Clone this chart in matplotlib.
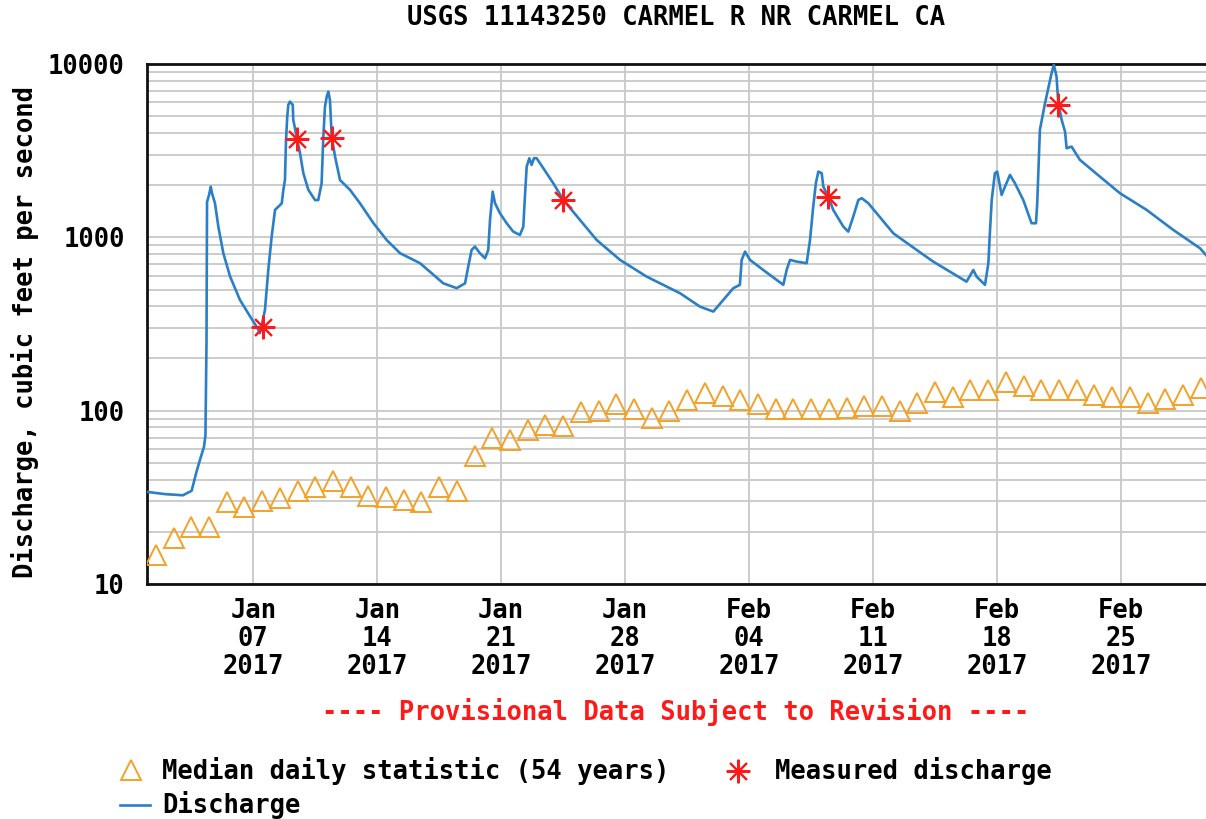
import datetime as dt
import matplotlib
matplotlib.use('Agg')
import matplotlib.pyplot as plt
import matplotlib.dates as mdates
from matplotlib.lines import Line2D
from matplotlib.ticker import LogLocator, NullFormatter, FixedFormatter, FixedLocator

# data (days after 2017-01-01 00:00, cfs)
flow_days = [0.00, 1.02, 2.03, 2.52, 2.81, 2.99, 3.22, 3.30, 3.36, 3.39, 3.50, 3.60, 3.67, 3.84,
             4.03, 4.31, 4.69, 5.25, 5.82, 6.19, 6.38, 6.66, 6.85, 7.04, 7.23, 7.61, 7.70, 7.79,
             7.85, 7.92, 7.98, 8.07, 8.23, 8.26, 8.45, 8.64, 8.83, 9.11, 9.49, 9.67, 9.86, 9.95,
             10.05, 10.15, 10.24, 10.33, 10.43, 10.62, 10.90, 11.46, 12.03, 12.78, 13.53, 14.29,
             15.42, 16.73, 17.49, 17.96, 18.14, 18.33, 18.52, 18.80, 19.09, 19.27, 19.37, 19.52,
             19.65, 19.93, 20.31, 20.68, 21.06, 21.25, 21.34, 21.44, 21.59, 21.72, 21.85, 22.00,
             22.38, 22.94, 23.51, 24.45, 25.39, 26.71, 28.22, 30.10, 31.23, 31.98, 32.54, 33.11,
             33.48, 33.58, 33.77, 34.05, 34.80, 35.93, 36.12, 36.31, 36.69, 37.25, 37.44, 37.62,
             37.77, 37.91, 38.10, 38.19, 38.47, 38.75, 39.32, 39.60, 39.88, 40.17, 40.36, 40.73,
             41.20, 42.14, 43.46, 44.40, 45.34, 46.28, 46.66, 46.85, 47.32, 47.51, 47.60, 47.70,
             47.88, 48.01, 48.26, 48.45, 48.73, 49.01, 49.48, 49.95, 50.20, 50.27, 50.42, 50.71,
             51.08, 51.21, 51.36, 51.46, 51.65, 51.84, 51.93, 52.21, 52.68, 53.81, 54.94, 56.45,
             57.95, 59.46, 59.80]
flow_cfs = [34, 33, 32.5, 34.5, 45, 52, 62, 72, 250, 1600, 1750, 1960, 1800, 1570,
            1150, 810, 595, 435, 350, 305, 280, 380, 650, 1010, 1440, 1570, 1880, 2140,
            3650, 4970, 5810, 6070, 5810, 4760, 3810, 3060, 2340, 1880, 1640, 1640, 2050, 3650,
            5680, 6490, 6930, 6210, 3810, 2920, 2140, 1880, 1570, 1210, 966, 810,
            709, 543, 509, 543, 678, 846, 884, 810, 757, 846, 1260, 1835,
            1574, 1378, 1206, 1079, 1032, 1153, 1717, 2559, 2860, 2617, 2860, 2860,
            2505, 2052, 1643, 1260, 966, 741, 593, 476, 398, 373, 435, 509,
            532, 741, 827, 741, 648, 532, 648, 741, 724, 709, 966, 1504,
            2052, 2394, 2343, 1962, 1717, 1439, 1153, 1079, 1316, 1643, 1681, 1574,
            1378, 1056, 846, 724, 634, 555, 648, 593, 532, 709, 1079, 1643,
            2343, 2394, 1757, 1962, 2291, 2052, 1643, 1206, 1206, 1574, 4168, 5940,
            8850, 9900, 8460, 5940, 4757, 4074, 3267, 3337, 2798, 2240, 1797, 1439,
            1104, 865, 790]

# median daily statistic, Jan 1 .. Mar 1
median_cfs = [14.7, 18.4, 21.3, 21.3, 29.6, 27.7, 30.3, 31.3, 34.2, 36.2, 39.5, 36.5, 32.4,
              31.7, 30.7, 29.9, 36.2, 34.6, 54.6, 69.4, 67.3, 76.9, 82.9, 81.1, 98.6, 99.5,
              108.6, 102.5, 91, 98.9, 115.6, 126, 122, 115.6, 109.6, 102.5, 102.5, 102.5, 102.5,
              103.4, 107, 105.7, 99.6, 110.5, 127.9, 119.7, 132, 132, 147.3, 138.4, 130.8,
              130.8, 130.8, 123.5, 119.7, 119.7, 110.5, 116, 123.5, 134.8]

meas_days = [6.55, 8.45, 10.43, 23.51, 38.47, 51.46]
meas_cfs = [305, 3700, 3750, 1650, 1700, 5800]

tick_dates = ['2017-01-07', '2017-01-14', '2017-01-21', '2017-01-28',
              '2017-02-04', '2017-02-11', '2017-02-18', '2017-02-25']

FONT = 'DejaVu Sans Mono'
FS = 18.4
BLUE = '#2a7fc6'
ORANGE = '#f2a22a'
RED = '#ff1a1a'

t0 = mdates.date2num(dt.datetime(2017, 1, 1))
flow_x = [t0 + d for d in flow_days]
med_x = [t0 + i + 0.5 for i in range(len(median_cfs))]
meas_x = [t0 + d for d in meas_days]

W, H = 1206, 819
fig = plt.figure(figsize=(W / 100, H / 100), dpi=100)
ax = fig.add_axes([147 / W, 1 - 584 / H, (W - 147) / W, 520 / H])

ax.plot(med_x, median_cfs, ls='none', marker='^', ms=14, mfc='none', mec=ORANGE, mew=1.4, zorder=3)
ax.plot(flow_x, flow_cfs, color=BLUE, lw=1.9, zorder=4)
ax.plot(meas_x, meas_cfs, ls='none', marker=(8, 2, 0), ms=17, mec=RED, mew=1.5, zorder=5)

ax.set_yscale('log')
ax.set_ylim(10, 10000)
ax.set_xlim(t0, t0 + 59.8)

# grids
ax.yaxis.set_major_locator(FixedLocator([10, 100, 1000, 10000]))
ax.yaxis.set_major_formatter(FixedFormatter(['10', '100', '1000', '10000']))
ax.yaxis.set_minor_locator(LogLocator(base=10, subs=range(2, 10)))
ax.yaxis.set_minor_formatter(NullFormatter())
ticks = [mdates.date2num(dt.datetime.strptime(s, '%Y-%m-%d')) for s in tick_dates]
ax.set_xticks(ticks)
ax.xaxis.set_major_formatter(mdates.DateFormatter('%b\n%d\n%Y'))
ax.grid(True, which='major', axis='x', color='#c8c8c8', lw=1.3)
ax.grid(True, which='both', axis='y', color='#c8c8c8', lw=1.3)
ax.set_axisbelow(True)

ax.tick_params(which='both', length=0)
ax.tick_params(axis='y', pad=16)
ax.tick_params(axis='x', pad=10)
for lab in ax.get_xticklabels() + ax.get_yticklabels():
    lab.set_fontfamily(FONT)
    lab.set_fontweight('bold')
    lab.set_fontsize(FS)
    lab.set_linespacing(1.1)

for s in ['left', 'bottom', 'top']:
    ax.spines[s].set_linewidth(2)
    ax.spines[s].set_color('#111111')
ax.spines['right'].set_visible(False)

txt = dict(family=FONT, weight='bold', fontsize=FS)
fig.text(676 / W, 1 - 18 / H, 'USGS 11143250 CARMEL R NR CARMEL CA', ha='center', va='center', **txt)
fig.text(25 / W, 1 - 332 / H, 'Discharge, cubic feet per second', rotation=90,
         ha='center', va='center', **txt)
fig.text(676 / W, 1 - 712 / H, '---- Provisional Data Subject to Revision ----',
         ha='center', va='center', color=RED, **txt)

# legend, drawn by hand
def fy(y):
    return 1 - y / H

fig.add_artist(Line2D([131 / W], [fy(770)], marker='^', ms=14, mfc='none', mec=ORANGE, mew=1.4,
                      transform=fig.transFigure))
fig.text(162 / W, fy(771), 'Median daily statistic (54 years)', ha='left', va='center', **txt)
fig.add_artist(Line2D([738 / W], [fy(771)], marker=(8, 2, 0), ms=17, mec=RED, mew=1.5,
                      transform=fig.transFigure))
fig.text(775 / W, fy(771), 'Measured discharge', ha='left', va='center', **txt)
fig.add_artist(Line2D([120 / W, 150 / W], [fy(805), fy(805)], color=BLUE, lw=1.9,
                      transform=fig.transFigure))
fig.text(162 / W, fy(805), 'Discharge', ha='left', va='center', **txt)

fig.savefig('out.png', dpi=100)
